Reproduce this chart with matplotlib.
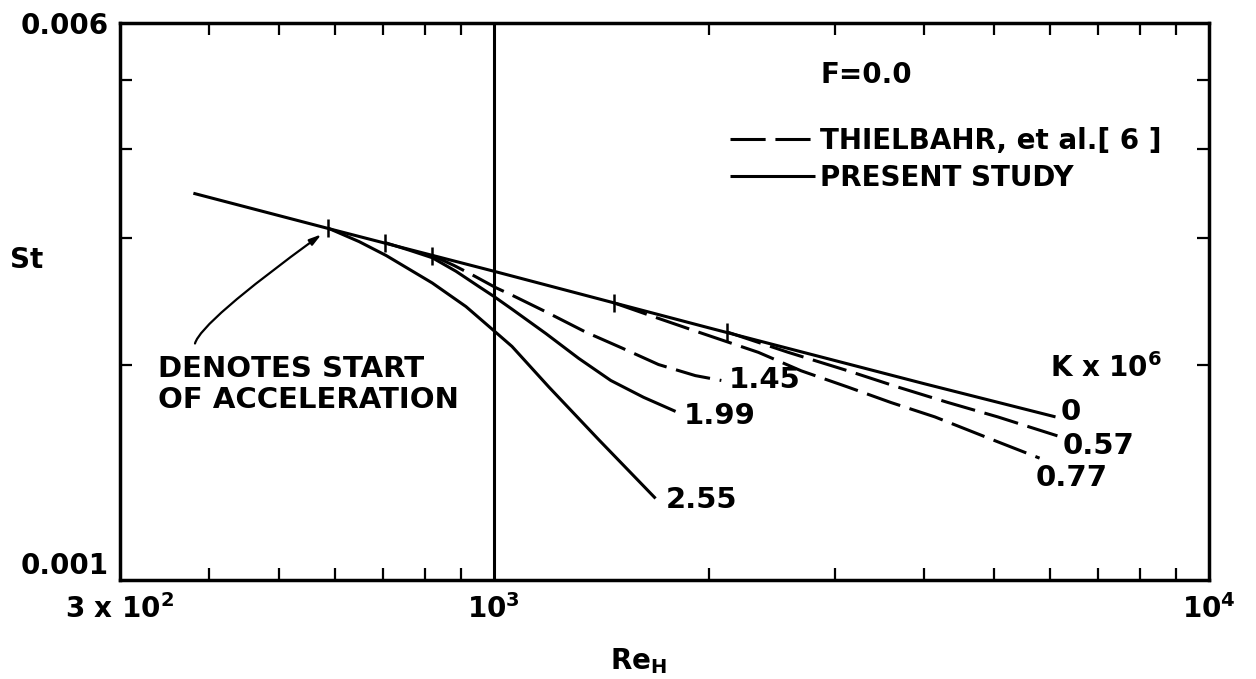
import matplotlib.pyplot as plt
from matplotlib.ticker import FixedLocator, FixedFormatter, NullFormatter

plt.rcParams['font.family'] = ['DejaVu Sans']
plt.rcParams['font.weight'] = 'bold'
plt.rcParams['axes.labelweight'] = 'bold'
plt.rcParams['mathtext.default'] = 'bf'

# St vs Re_H, one curve per acceleration parameter K x 10^6
k_labels = ['0', '0.57', '0.77', '1.45', '1.99', '2.55']

re_k0 = [380, 600, 1000, 2000, 4000, 6100]
st_k0 = [0.00347, 0.00308, 0.00270, 0.00225, 0.00188, 0.00169]

re_k057 = [2121, 2580, 3127, 3673, 4315, 5064, 6138]
st_k057 = [0.00222, 0.00208, 0.00196, 0.00186, 0.00177, 0.00169, 0.00159]

re_k077 = [1470, 1699, 1932, 2343, 2690, 3127, 3591, 4136, 5064, 5795]
st_k077 = [0.00244, 0.00232, 0.00222, 0.00208, 0.00196, 0.00186, 0.00177,
           0.00169, 0.00156, 0.00148]

re_k145 = [820, 880, 932, 1007, 1060, 1182, 1344, 1509, 1699, 1913, 2080]
st_k145 = [0.00284, 0.00275, 0.00267, 0.00256, 0.00250, 0.00237, 0.00222,
           0.00211, 0.00200, 0.00193, 0.00190]

re_k199 = [705, 761, 820, 885, 953, 1000, 1060, 1182, 1314, 1457, 1619, 1795]
st_k199 = [0.00296, 0.00289, 0.00282, 0.00270, 0.00257, 0.00249, 0.00239,
           0.00221, 0.00204, 0.00190, 0.00180, 0.00172]

re_k255 = [587, 648, 707, 820, 914, 1000, 1060, 1194, 1402, 1683]
st_k255 = [0.00310, 0.00297, 0.00284, 0.00260, 0.00241, 0.00223, 0.00212,
           0.00186, 0.00157, 0.00130]

curves = [
    (re_k0, st_k0, '-', (5, 5)),
    (re_k057, st_k057, '--', (5, -10)),
    (re_k077, st_k077, '--', (-4, -20)),
    (re_k145, st_k145, '--', (7, 0)),
    (re_k199, st_k199, '-', (8, -5)),
    (re_k255, st_k255, '-', (10, -2)),
]

fig = plt.figure(figsize=(12.56, 6.79), dpi=100)
ax = fig.add_axes([0.0955, 0.1458, 0.8671, 0.8203])
ax.set_xscale('log')
ax.set_yscale('log')
ax.set_xlim(300, 10000)
ax.set_ylim(0.001, 0.006)

dash = (0, (11.5, 3.2))
lines = []
for (re, st, style, off), k in zip(curves, k_labels):
    ls = dash if style == '--' else '-'
    ln, = ax.plot(re, st, color='black', lw=2.2, ls=ls, solid_capstyle='butt')
    lines.append(ln)
    # small bar where acceleration starts
    if k != '0':
        ax.plot(re[0], st[0], marker='|', ms=13, mew=1.8, color='black')
    ax.annotate(k, xy=(re[-1], st[-1]), xytext=off, textcoords='offset pixels',
                ha='left', va='center', fontsize=21)

ax.axvline(1000, color='black', lw=2.2)

# axes, ticks
for sp in ax.spines.values():
    sp.set_linewidth(2.5)
ax.xaxis.set_major_locator(FixedLocator([300, 1000, 10000]))
ax.xaxis.set_major_formatter(FixedFormatter([r'$3\ x\ 10^2$', r'$10^3$', r'$10^4$']))
ax.xaxis.set_minor_locator(FixedLocator([m * d for d in (100, 1000) for m in range(2, 10) if m * d > 300]))
ax.xaxis.set_minor_formatter(NullFormatter())
ax.yaxis.set_major_locator(FixedLocator([0.001, 0.006]))
ax.yaxis.set_major_formatter(FixedFormatter(['0.001', '0.006']))
ax.yaxis.set_minor_locator(FixedLocator([0.002, 0.003, 0.004, 0.005]))
ax.yaxis.set_minor_formatter(NullFormatter())
ax.tick_params(which='major', length=0, labelsize=20)
ax.tick_params(axis='x', which='major', pad=10)
ax.tick_params(axis='y', which='major', pad=8)
ax.tick_params(which='minor', direction='in', length=8.5, width=1.6,
               top=True, right=True)
ax.yaxis.get_major_ticks()[0].label1.set_verticalalignment('bottom')

ax.set_xlabel(r'$Re_H$', fontsize=20, va='top')
ax.xaxis.set_label_coords(0.476, -0.118)
ax.set_ylabel('St', fontsize=20, rotation=0, ha='center', va='center')
ax.yaxis.set_label_coords(-0.0854, 0.5745)

# legend block
ax.text(0.643, 0.907, 'F=0.0', transform=ax.transAxes, fontsize=20,
        ha='left', va='center')
ax.legend([lines[3], lines[5]], ['THIELBAHR, et al.[ 6 ]', 'PRESENT STUDY'],
          loc='upper left', bbox_to_anchor=(0.560, 0.813), frameon=False,
          fontsize=20, handlelength=3.06, handletextpad=0.18,
          labelspacing=0.32, borderpad=0, borderaxespad=0)

ax.text(0.854, 0.381, r'$K\ x\ 10^6$', transform=ax.transAxes, fontsize=20,
        ha='left', va='center')

# start-of-acceleration note
ax.text(0.0349, 0.404, 'DENOTES START\nOF ACCELERATION', transform=ax.transAxes,
        fontsize=21, ha='left', va='top', linespacing=1.12)
ax.annotate('', xy=(574, 0.00304), xytext=(382, 0.00214),
            arrowprops=dict(arrowstyle='-|>,head_length=0.7,head_width=0.2',
                            connectionstyle='angle3,angleA=75,angleB=36',
                            lw=1.6, color='black', shrinkA=0, shrinkB=0))

fig.savefig('out.png', dpi=100)
